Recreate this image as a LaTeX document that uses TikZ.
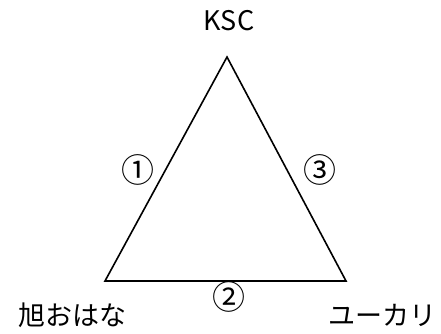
\documentclass[tikz,border=0pt]{standalone}
\usepackage{fontspec}
\setmainfont{Noto Sans CJK JP}
\tikzstyle{site-label}=[inner sep=0pt, font=\fontsize{27}{30}\selectfont]
\tikzstyle{route-label}=[inner sep=0pt, font=\fontsize{33}{36}\selectfont]
\tikzstyle{route}=[line width=1.6pt, line join=miter]

\begin{document}
\begin{tikzpicture}[x=1pt, y=1pt]
      \useasboundingbox (0, 0) rectangle (441, 333);
      \coordinate (ksc) at (227, 276);
      \coordinate (asahi) at (105, 52);
      \coordinate (yukari) at (346, 52);
      \draw [route] (ksc) -- (asahi) -- (yukari) -- cycle;
      \node (ksclabel) at (229, 312) [site-label] {KSC};
      \node (asahilabel) at (72, 18) [site-label] {旭おはな};
      \node (yukarilabel) at (382, 18) [site-label] {ユーカリ};
      \node (route1) at (138, 163) [route-label] {①};
      \node (route2) at (229, 36) [route-label] {②};
      \node (route3) at (320, 163) [route-label] {③};
    \end{tikzpicture}
\end{document}
